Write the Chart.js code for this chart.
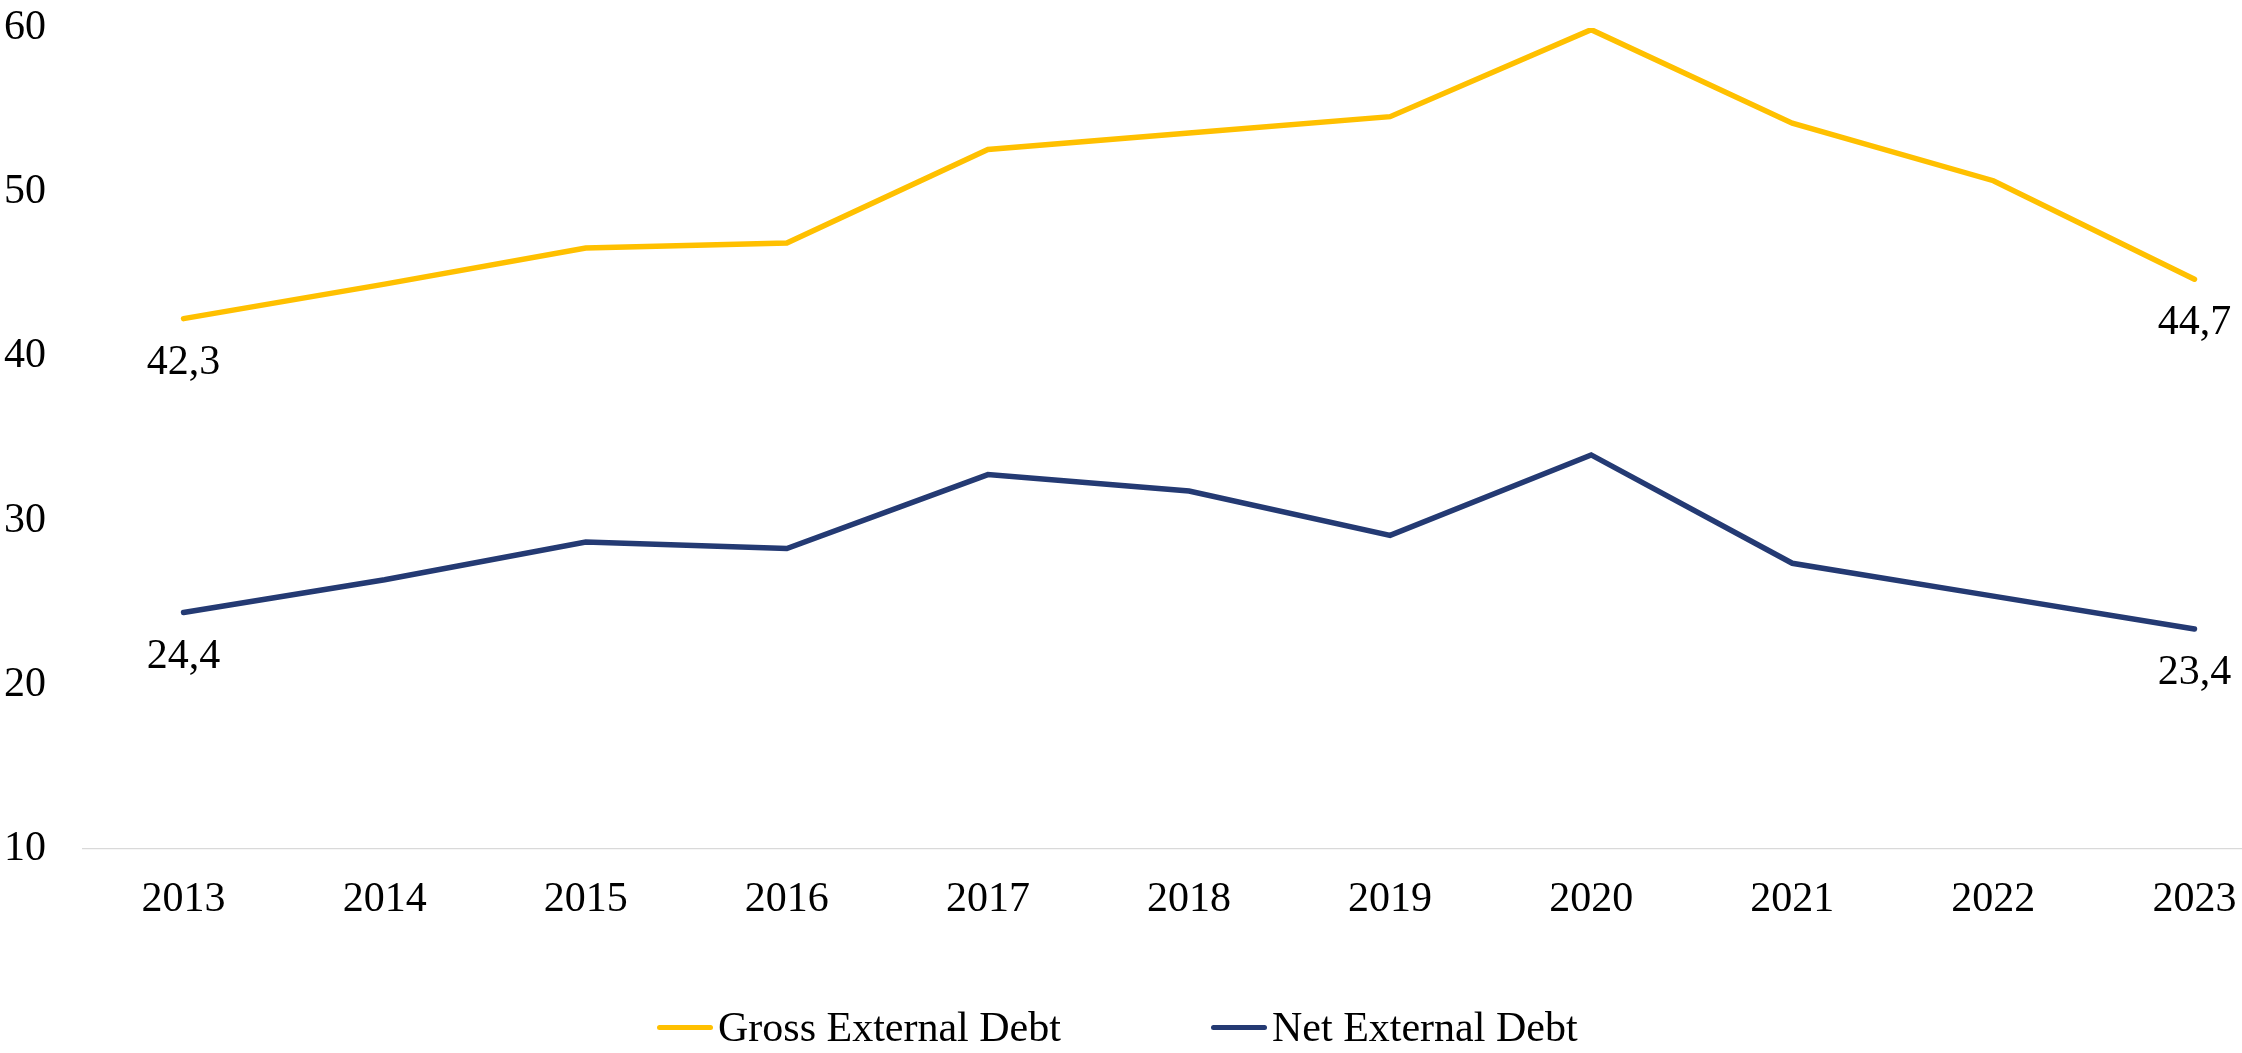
<!DOCTYPE html>
<html><head><meta charset="utf-8">
<script src="https://cdn.jsdelivr.net/npm/chart.js@4"></script>
<style>
html,body{margin:0;padding:0;overflow:hidden;background:#fff;width:2242px;height:1053px;}
#wrap{position:relative;width:2242px;height:1053px;overflow:hidden;}
canvas{position:absolute;left:0;top:0;}
.lg{position:absolute;font-family:'Liberation Serif',serif;font-size:42px;color:#000;line-height:50px;top:1002px;white-space:nowrap}
.sw{position:absolute;height:5px;border-radius:2.5px;top:1025px;width:56px}
</style></head><body>
<div id="wrap"><canvas id="c" width="2300" height="1053"></canvas></div>
<script>
const years = ['2013','2014','2015','2016','2017','2018','2019','2020','2021','2022','2023'];
const grossExternalDebt = [42.3, 44.4, 46.6, 46.9, 52.6, 53.6, 54.6, 59.9, 54.2, 50.7, 44.7];
const netExternalDebt = [24.4, 26.4, 28.7, 28.3, 32.8, 31.8, 29.1, 34.0, 27.4, 25.4, 23.4];
const seriesNames = ['Gross External Debt', 'Net External Debt'];
const seriesColors = ['#FFC000', '#243A73'];
const yTicks = [10, 20, 30, 40, 50, 60];

const FONT = "'Liberation Serif', serif";
const FS = 42;
const fmt = v => v.toFixed(1).replace('.', ',');

const endLabels = {
  id: 'endLabels',
  afterDatasetsDraw(chart) {
    const ctx = chart.ctx;
    ctx.save();
    ctx.font = FS + 'px ' + FONT;
    ctx.fillStyle = '#000';
    ctx.textAlign = 'center';
    ctx.textBaseline = 'middle';
    chart.data.datasets.forEach((ds, i) => {
      const meta = chart.getDatasetMeta(i);
      [0, ds.data.length - 1].forEach(j => {
        const p = meta.data[j];
        ctx.fillText(fmt(ds.data[j]), p.x, p.y + 44);
      });
    });
    ctx.restore();
  }
};

new Chart(document.getElementById('c'), {
  type: 'line',
  data: {
    labels: years,
    datasets: [
      { label: seriesNames[0], data: grossExternalDebt, borderColor: seriesColors[0], backgroundColor: seriesColors[0],
        borderWidth: 5.5, pointRadius: 0, tension: 0, borderCapStyle: 'round', borderJoinStyle: 'miter' },
      { label: seriesNames[1], data: netExternalDebt, borderColor: seriesColors[1], backgroundColor: seriesColors[1],
        borderWidth: 5.5, pointRadius: 0, tension: 0, borderCapStyle: 'round', borderJoinStyle: 'miter' }
    ]
  },
  options: {
    responsive: false,
    animation: false,
    devicePixelRatio: 1,
    layout: { padding: { top: 28, right: 5, left: 0, bottom: 0 } },
    plugins: { legend: { display: false }, tooltip: { enabled: false } },
    scales: {
      x: {
        offset: true,
        grid: { display: false, drawTicks: false },
        border: { display: true, color: '#d9d9d9', width: 1.3 },
        ticks: { font: { family: FONT, size: FS }, color: '#000', padding: 26, maxRotation: 0, autoSkip: false },
        afterFit(s) { s.height = 204; s.paddingLeft = 0; s.paddingRight = 0; }
      },
      y: {
        min: 10, max: 60,
        afterBuildTicks(s) { s.ticks = yTicks.map(v => ({ value: v })); },
        grid: { display: false, drawTicks: false },
        border: { display: false },
        ticks: { font: { family: FONT, size: FS }, color: '#000', padding: 37 },
        afterFit(s) { s.width = 83; s.paddingTop = 0; s.paddingBottom = 0; }
      }
    }
  },
  plugins: [endLabels]
});

// legend (HTML), built from series names/colors
const wrap = document.getElementById('wrap');
const legendPos = [[657, 718], [1211, 1272]];
seriesNames.forEach((n, i) => {
  const sw = document.createElement('div');
  sw.className = 'sw';
  sw.style.left = legendPos[i][0] + 'px';
  sw.style.background = seriesColors[i];
  wrap.appendChild(sw);
  const t = document.createElement('div');
  t.className = 'lg';
  t.style.left = legendPos[i][1] + 'px';
  t.textContent = n;
  wrap.appendChild(t);
});
</script>
</body></html>
